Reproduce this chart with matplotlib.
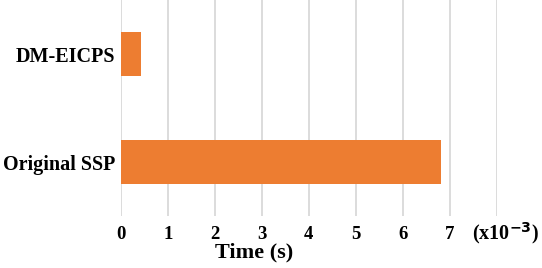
import matplotlib
matplotlib.use("Agg")
import matplotlib.pyplot as plt

methods = ["Original SSP", "DM-EICPS"]
times_ms = [6.81, 0.43]  # time in units of 1e-3 s
x_ticks = [0, 1, 2, 3, 4, 5, 6, 7, 8]
x_tick_labels = ["0", "1", "2", "3", "4", "5", "6", "7", ""]

plt.rcParams["font.family"] = ["Liberation Serif", "DejaVu Serif"]
plt.rcParams["font.weight"] = "bold"

fig = plt.figure(figsize=(5.42, 2.68), dpi=100)
ax = fig.add_axes([0.2227, 0.194, 0.6937, 0.806])

ax.barh(methods, times_ms, height=0.4, color="#ED7D31", zorder=3)
ax.set_xlim(0, 8)
ax.set_ylim(-0.5, 1.5)
ax.set_xticks(x_ticks)
ax.set_xticklabels(x_tick_labels)
ax.grid(axis="x", color="#d9d9d9", linewidth=1.3, zorder=0)
for side in ax.spines.values():
    side.set_visible(False)
ax.tick_params(axis="both", length=0)
ax.tick_params(axis="x", labelsize=13.5, pad=7)
ax.tick_params(axis="y", labelsize=14.5, pad=4)
for lbl in ax.get_xticklabels() + ax.get_yticklabels():
    lbl.set_fontweight("bold")

ax.text(7.47, -0.08, r"(x10$^{-3}$)", transform=ax.get_xaxis_transform(),
        ha="left", va="center", fontsize=14.5, fontweight="bold")

ax.set_xlabel("Time (s)", fontsize=16, fontweight="bold", va="center")
ax.xaxis.set_label_coords(0.356, -0.17)

fig.savefig("out.png", dpi=100)
